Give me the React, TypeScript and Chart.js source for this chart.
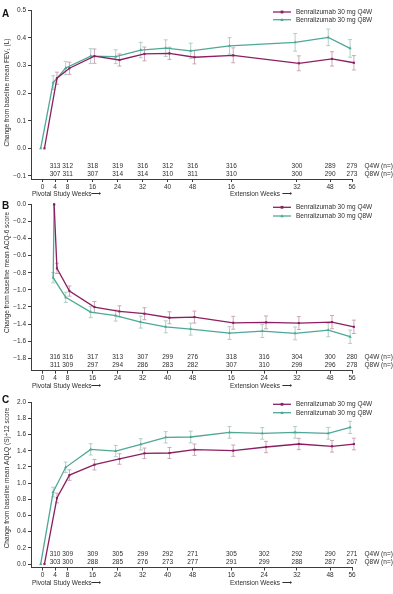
import React, { useEffect, useRef } from 'react';
import { Chart, registerables } from 'chart.js';

Chart.register(...registerables);

// ---- Visit schedule ----
const pivotalWeeks = [0, 4, 8, 16, 24, 32, 40, 48];
const fevExtWeeks = [16, 32, 48, 56];
const extWeeks = [16, 24, 32, 48, 56];

// ---- FEV1 change from baseline (L) ----
const fevQ4w = [0, 0.254, 0.29, 0.334, 0.32, 0.342, 0.344, 0.33, 0.337, 0.308, 0.324, 0.31];
const fevQ4wErr = [0, 0.022, 0.022, 0.026, 0.022, 0.025, 0.022, 0.024, 0.027, 0.027, 0.026, 0.026];
const fevQ8w = [0, 0.238, 0.291, 0.334, 0.332, 0.356, 0.363, 0.353, 0.371, 0.384, 0.402, 0.362];
const fevQ8wErr = [0, 0.025, 0.024, 0.027, 0.025, 0.028, 0.03, 0.028, 0.03, 0.032, 0.03, 0.032];
const fevQ4wN = [313, 312, 318, 319, 316, 312, 316, 316, 300, 289, 279];
const fevQ8wN = [307, 311, 307, 314, 314, 310, 311, 310, 300, 290, 273];
const fevTicks = [-0.1, 0, 0.1, 0.2, 0.3, 0.4, 0.5];

// ---- ACQ-6 score change from baseline ----
const acqQ4w = [0, -0.749, -1.014, -1.201, -1.252, -1.279, -1.326, -1.318, -1.385, -1.38, -1.388, -1.377, -1.432];
const acqQ4wErr = [0, 0.06, 0.06, 0.065, 0.065, 0.07, 0.07, 0.07, 0.075, 0.075, 0.075, 0.078, 0.078];
const acqQ8w = [0, -0.858, -1.088, -1.26, -1.3, -1.377, -1.432, -1.459, -1.505, -1.482, -1.509, -1.47, -1.548];
const acqQ8wErr = [0, 0.06, 0.06, 0.065, 0.065, 0.07, 0.07, 0.07, 0.075, 0.075, 0.075, 0.078, 0.078];
const acqQ4wN = [316, 316, 317, 313, 307, 299, 276, 318, 316, 304, 300, 280];
const acqQ8wN = [311, 309, 297, 294, 286, 283, 282, 307, 310, 299, 296, 278];
const acqTicks = [0, -0.2, -0.4, -0.6, -0.8, -1.0, -1.2, -1.4, -1.6, -1.8];

// ---- AQLQ(S)+12 score change from baseline ----
const aqlqQ4w = [0, 0.816, 1.1, 1.228, 1.299, 1.369, 1.373, 1.414, 1.402, 1.447, 1.484, 1.456, 1.484];
const aqlqQ4wErr = [0, 0.06, 0.065, 0.065, 0.065, 0.065, 0.068, 0.07, 0.07, 0.07, 0.07, 0.072, 0.072];
const aqlqQ8w = [0, 0.89, 1.196, 1.418, 1.397, 1.48, 1.567, 1.571, 1.628, 1.616, 1.628, 1.616, 1.69];
const aqlqQ8wErr = [0, 0.06, 0.065, 0.07, 0.07, 0.07, 0.07, 0.072, 0.072, 0.072, 0.072, 0.072, 0.075];
const aqlqQ4wN = [310, 309, 309, 305, 299, 292, 271, 305, 302, 292, 290, 271];
const aqlqQ8wN = [303, 300, 288, 285, 276, 273, 277, 291, 299, 288, 287, 267];
const aqlqTicks = [0, 0.2, 0.4, 0.6, 0.8, 1.0, 1.2, 1.4, 1.6, 1.8, 2.0];

const seriesNames = ['Benralizumab 30 mg Q4W', 'Benralizumab 30 mg Q8W'];
const nRowLabels = ['Q4W (n=)', 'Q8W (n=)'];

// ---- Styling ----
const FONT = '"Liberation Sans", Arial, Helvetica, sans-serif';
const TEXT = '#2e2e2e';
const AXIS = '#3c3c3c';
const Q4W_COLOR = '#8c1f62';
const Q8W_COLOR = '#4fa796';
const Q4W_ERR = '#c89db2';
const Q8W_ERR = '#aac9c1';
const FS = 6.5;

// x-axis layout: pivotal weeks sit at their own week value,
// extension visits follow on their own slots to the right
const EXT_SLOT: Record<number, number> = { 16: 60.4, 24: 70.9, 32: 81.4, 48: 92, 56: 99 };
const X_MIN = -3.7;
const X_MAX = 99;
const DODGE = 0.6;
const PLOT_RIGHT = 352;
const Y_AXIS_W = 31;

type Panel = {
  letter: string;
  title: string;
  top: number;
  height: number;
  areaTop: number;
  areaBottom: number;
  yMin: number;
  yMax: number;
  yTicks: number[];
  ext: number[];
  baselineX: number;
  baselineDodge: boolean;
  q4w: number[];
  q4wErr: number[];
  q8w: number[];
  q8wErr: number[];
  q4wN: number[];
  q8wN: number[];
  titleCenter: number;
  legendY: number[];
  letterBase: number;
};

const panels: Panel[] = [
  {
    letter: 'A', title: 'Change from baseline mean FEV\u2081 (L)',
    top: 0, height: 198, areaTop: 10.3, areaBottom: 179,
    yMin: -0.111, yMax: 0.5, yTicks: fevTicks, ext: fevExtWeeks, baselineX: 0, baselineDodge: true,
    q4w: fevQ4w, q4wErr: fevQ4wErr, q8w: fevQ8w, q8wErr: fevQ8wErr, q4wN: fevQ4wN, q8wN: fevQ8wN,
    titleCenter: 92.5, legendY: [12, 19.7], letterBase: 17.3,
  },
  {
    letter: 'B', title: 'Change from baseline mean ACQ-6 score',
    top: 198, height: 192, areaTop: 6.3, areaBottom: 172.7,
    yMin: -1.945, yMax: 0, yTicks: acqTicks, ext: extWeeks, baselineX: 3.7, baselineDodge: false,
    q4w: acqQ4w, q4wErr: acqQ4wErr, q8w: acqQ8w, q8wErr: acqQ8wErr, q4wN: acqQ4wN, q8wN: acqQ8wN,
    titleCenter: 74.5, legendY: [9.3, 18], letterBase: 10.7,
  },
  {
    letter: 'C', title: 'Change from baseline mean AQLQ (S)+12 score',
    top: 390, height: 204, areaTop: 12.3, areaBottom: 177.5,
    yMin: -0.043, yMax: 2.0, yTicks: aqlqTicks, ext: extWeeks, baselineX: 0, baselineDodge: true,
    q4w: aqlqQ4w, q4wErr: aqlqQ4wErr, q8w: aqlqQ8w, q8wErr: aqlqQ8wErr, q4wN: aqlqQ4wN, q8wN: aqlqQ8wN,
    titleCenter: 88, legendY: [14.3, 22.7], letterBase: 12.5,
  },
];

function fmtY(v: number): string {
  const s = Math.abs(v).toFixed(1);
  return v < -1e-9 ? '\u2212' + s : s;
}

function buildChart(canvas: HTMLCanvasElement, p: Panel): Chart {
  const visitX = [p.baselineX, ...pivotalWeeks.slice(1), ...p.ext.map((w) => EXT_SLOT[w])];
  const tickX = [...pivotalWeeks, ...p.ext.map((w) => EXT_SLOT[w])];
  const tickLabels = [...pivotalWeeks, ...p.ext].map(String);
  const nX = tickX.slice(1);

  const series = [
    { vals: p.q4w, err: p.q4wErr, n: p.q4wN, color: Q4W_COLOR, errColor: Q4W_ERR, dx: DODGE, style: 'rect' },
    { vals: p.q8w, err: p.q8wErr, n: p.q8wN, color: Q8W_COLOR, errColor: Q8W_ERR, dx: -DODGE, style: 'triangle' },
  ];
  const xOf = (s: (typeof series)[number], i: number) =>
    visitX[i] + (i === 0 && !p.baselineDodge ? 0 : s.dx);

  const errorBars = {
    id: 'errorBars',
    beforeDatasetsDraw(chart: any) {
      const { ctx, scales } = chart;
      ctx.save();
      ctx.lineWidth = 0.9;
      series.forEach((s) => {
        ctx.strokeStyle = s.errColor;
        s.vals.forEach((v, i) => {
          const e = s.err[i];
          if (!e) return;
          const x = scales.x.getPixelForValue(xOf(s, i));
          const y1 = scales.y.getPixelForValue(v - e);
          const y2 = scales.y.getPixelForValue(v + e);
          ctx.beginPath();
          ctx.moveTo(x, y1); ctx.lineTo(x, y2);
          ctx.moveTo(x - 2, y1); ctx.lineTo(x + 2, y1);
          ctx.moveTo(x - 2, y2); ctx.lineTo(x + 2, y2);
          ctx.stroke();
        });
      });
      ctx.restore();
    },
  };

  const annotations = {
    id: 'annotations',
    afterDraw(chart: any) {
      const { ctx, chartArea, scales } = chart;
      const bottom = chartArea.bottom;
      ctx.save();

      // panel letter
      ctx.fillStyle = '#111';
      ctx.font = `bold 10px ${FONT}`;
      ctx.textAlign = 'left';
      ctx.textBaseline = 'alphabetic';
      ctx.fillText(p.letter, 2, p.letterBase);

      // y-axis title
      ctx.fillStyle = TEXT;
      ctx.font = `${FS}px ${FONT}`;
      ctx.save();
      ctx.translate(7.3, p.titleCenter);
      ctx.rotate(-Math.PI / 2);
      ctx.textAlign = 'center';
      ctx.textBaseline = 'middle';
      ctx.fillText(p.title, 0, 0);
      ctx.restore();

      // legend
      series.forEach((s, k) => {
        const y = p.legendY[k];
        ctx.strokeStyle = s.color;
        ctx.lineWidth = 1.3;
        ctx.beginPath();
        ctx.moveTo(273, y); ctx.lineTo(291, y);
        ctx.stroke();
        ctx.fillStyle = s.color;
        if (s.style === 'rect') {
          ctx.fillRect(280.6, y - 1.4, 2.8, 2.8);
        } else {
          ctx.beginPath();
          ctx.moveTo(282, y - 1.8); ctx.lineTo(283.7, y + 1.2); ctx.lineTo(280.3, y + 1.2);
          ctx.closePath(); ctx.fill();
        }
        ctx.fillStyle = TEXT;
        ctx.font = `${FS}px ${FONT}`;
        ctx.textAlign = 'left';
        ctx.textBaseline = 'middle';
        ctx.fillText(seriesNames[k], 296, y + 0.3);
      });

      // patient counts under the curves
      ctx.fillStyle = TEXT;
      ctx.font = `${FS}px ${FONT}`;
      ctx.textBaseline = 'middle';
      const rows = [bottom - 13, bottom - 5];
      series.forEach((s, k) => {
        ctx.textAlign = 'center';
        s.n.forEach((n, i) => {
          ctx.fillText(String(n), scales.x.getPixelForValue(nX[i]), rows[k]);
        });
        ctx.textAlign = 'left';
        ctx.fillText(nRowLabels[k], 364.5, rows[k]);
      });

      // study period captions
      ctx.textAlign = 'left';
      ctx.fillText('Pivotal Study Weeks\u27F6', 32, bottom + 15.5);
      ctx.fillText('Extension Weeks \u27F6', 230, bottom + 15.5);
      ctx.restore();
    },
  };

  const mkData = (s: (typeof series)[number]) =>
    s.vals.map((v, i) => ({ x: xOf(s, i), y: v }));

  return new Chart(canvas, {
    type: 'line',
    data: {
      datasets: series.map((s, k) => ({
        label: seriesNames[k],
        data: mkData(s),
        borderColor: s.color,
        backgroundColor: s.color,
        borderWidth: 1.3,
        pointStyle: s.style as any,
        pointRadius: s.style === 'rect' ? 1.5 : 1.8,
        pointBorderWidth: 0,
        tension: 0,
        clip: false as any,
      })),
    },
    options: {
      animation: false,
      responsive: false,
      devicePixelRatio: 1,
      layout: { padding: { left: 0, right: 393 - PLOT_RIGHT, top: p.areaTop, bottom: 0 } },
      plugins: { legend: { display: false }, tooltip: { enabled: false } },
      scales: {
        x: {
          type: 'linear',
          min: X_MIN,
          max: X_MAX,
          afterBuildTicks: (s: any) => {
            s.ticks = tickX.map((v) => ({ value: v }));
          },
          afterFit: (s: any) => {
            s.height = p.height - p.areaBottom;
          },
          ticks: {
            autoSkip: false,
            maxRotation: 0,
            padding: 1,
            color: TEXT,
            font: { family: FONT, size: FS },
            callback: (_v: any, i: number) => tickLabels[i],
          },
          grid: { drawOnChartArea: false, drawTicks: true, tickLength: 3, tickColor: AXIS, lineWidth: 1 },
          border: { display: true, color: AXIS, width: 1 },
        },
        y: {
          type: 'linear',
          min: p.yMin,
          max: p.yMax,
          afterBuildTicks: (s: any) => {
            s.ticks = p.yTicks.map((v) => ({ value: v }));
          },
          afterFit: (s: any) => {
            s.width = Y_AXIS_W;
          },
          ticks: {
            padding: 2,
            color: TEXT,
            font: { family: FONT, size: FS },
            callback: (v: any) => fmtY(Number(v)),
          },
          grid: { drawOnChartArea: false, drawTicks: true, tickLength: 3, tickColor: AXIS, lineWidth: 1 },
          border: { display: true, color: AXIS, width: 1 },
        },
      },
    },
    plugins: [errorBars, annotations],
  });
}

function PanelChart({ panel }: { panel: Panel }) {
  const ref = useRef<HTMLCanvasElement | null>(null);
  useEffect(() => {
    if (!ref.current) return;
    const chart = buildChart(ref.current, panel);
    return () => chart.destroy();
  }, [panel]);
  return (
    <canvas
      ref={ref}
      width={393}
      height={panel.height}
      style={{ position: 'absolute', left: 0, top: panel.top, width: 393, height: panel.height }}
    />
  );
}

export default function App() {
  return (
    <div style={{ position: 'absolute', left: 0, top: 0, width: 393, height: 594, background: '#fff' }}>
      {panels.map((p) => (
        <PanelChart key={p.letter} panel={p} />
      ))}
    </div>
  );
}
